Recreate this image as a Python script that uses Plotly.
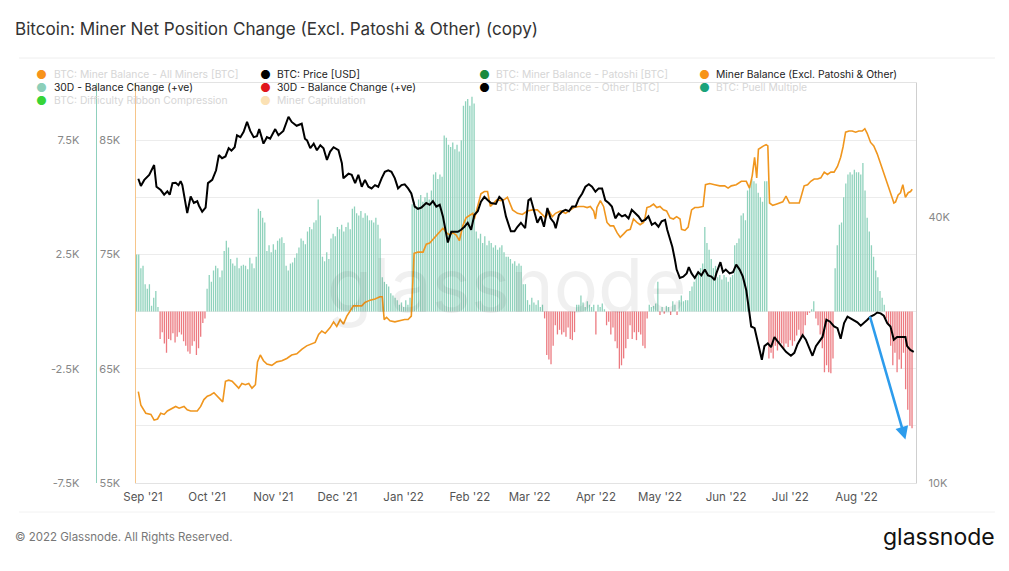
import numpy as np
import pandas as pd
import plotly.graph_objects as go

START = pd.Timestamp("2021-08-29")

# 30D balance change, daily, in thousands of BTC (from START)
balance_change_k = [
    2.5, 2.5, 1.9, 2.0, 1.2, 1.0, 1.2, 0.25, 0.6, 0.9,
    0.2, -1.2, -0.9, -1.4, -1.8, -1.2, -1.25, -0.95, -1.35, -1.1,
    -0.9, -1.0, -1.3, -1.5, -1.75, -1.85, -1.5, -1.3, -1.9, -1.6,
    -1.1, -0.5, -0.3, 1.0, 1.6, 1.3, 1.8, 2.0, 1.9, 1.5,
    1.8, 2.65, 3.1, 2.8, 2.3, 2.1, 2.0, 2.35, 1.9, 2.0,
    2.05, 2.0, 1.85, 2.35, 2.1, 1.9, 2.4, 4.5, 4.4, 4.1,
    3.9, 2.65, 2.9, 2.6, 2.95, 2.7, 3.1, 3.2, 3.25, 3.0,
    2.0, 1.8, 2.1, 2.15, 2.35, 2.55, 2.8, 3.2, 3.1, 2.95,
    3.5, 3.7, 3.6, 3.9, 4.0, 4.9, 4.2, 2.4, 2.2, 2.6,
    2.3, 3.2, 3.4, 3.3, 3.7, 3.6, 3.8, 3.5, 3.7, 3.9,
    3.6, 4.5, 4.6, 4.3, 4.2, 4.4, 4.1, 4.3, 4.2, 4.0,
    4.0, 3.9, 4.1, 3.8, 3.2, 1.5, 1.3, 1.2, 1.1, 0.8,
    0.7, 0.6, 0.5, 0.3, 0.4, 0.2, 0.5, 0.3, 0.6, 4.7,
    4.8, 4.6, 4.9, 5.1, 4.8, 5.0, 5.2, 4.9, 5.3, 6.0,
    6.1, 5.8, 6.0, 5.9, 7.7, 7.6, 7.3, 7.2, 7.4, 7.1,
    7.3, 7.0, 7.5, 9.0, 9.2, 9.3, 9.0, 9.4, 9.1, 3.5,
    3.2, 3.4, 3.0, 3.3, 2.9, 3.1, 3.0, 2.8, 2.9, 2.7,
    2.8, 2.9, 2.6, 2.4, 2.4, 2.3, 2.1, 2.2, 2.0, 2.1,
    2.0, 1.2, 1.2, 0.5, 0.3, 0.6, 0.4, 0.3, 0.5, 0.2,
    0.3, -0.3, -1.9, -2.1, -2.3, -1.5, -0.6, -1.0, -0.8, -1.0,
    -0.9, -1.1, -0.7, -1.2, -1.25, -0.9, 0.3, 0.3, 0.7, 0.4,
    0.2, 0.45, 0.3, 0.2, 0.3, -1.0, 0.3, 0.2, 0.35, 0.1,
    -0.6, -0.45, -1.0, -0.7, -1.3, -1.6, -2.5, -2.35, -2.05, -1.6,
    -1.2, -0.6, -1.2, -0.9, -1.25, -0.9, -1.0, -1.5, -1.6, -0.3,
    0.3, 0.2, 0.25, 0.35, 1.3, -0.15, 0.2, -0.1, 0.25, 0.2,
    -0.15, 0.45, 0.3, -0.15, 0.5, 0.7, 0.45, 0.5, 0.5, 0.9,
    1.1, 1.3, 1.5, 1.7, 1.9, 2.1, 3.7, 3.0, 2.7, 2.3,
    1.9, 2.0, 1.5, 1.6, 1.4, 1.6, 1.5, 1.3, 1.5, 1.6,
    2.9, 3.0, 3.2, 4.2, 4.3, 4.0, 5.3, 5.5, 5.8, 5.7,
    5.6, 5.2, 5.0, 4.8, 5.7, 5.7, -2.05, -1.8, -2.05, -1.5,
    -1.7, -1.35, -1.4, -1.6, -1.4, -1.55, -1.25, -1.5, -1.3, -1.05,
    -0.8, -1.2, -1.0, -0.6, -0.15, -0.05, 0.1, 0.45, -0.3, -0.6,
    -1.0, -1.6, -2.65, -2.35, -2.65, -2.7, -2.05, 1.9, 2.9, 3.8,
    3.9, 5.0, 5.6, 6.0, 6.1, 6.0, 6.2, 6.1, 6.1, 6.0,
    6.5, 5.3, 4.1, 3.5, 2.9, 2.4, 1.8, 1.5, 0.9, 0.6,
    0.3, -0.3, -0.6, -1.5, -2.35, -1.8, -2.65, -2.1, -2.5, -1.8,
    -3.4, -4.3, -5.0, -5.1,
]

# BTC price (USD, thousands), day offsets from START
price_days = [
    0.8, 2.0, 3.6, 5.9, 8.2, 9.3, 11.3, 12.9, 14.4, 15.5, 16.8, 18.3, 19.6, 20.6, 21.4,
    22.9, 23.7, 25.3, 26.8, 28.4, 29.2, 30.7, 32.3, 33.4, 35.4, 37.2, 38.5, 40.0, 41.6,
    43.1, 44.4, 45.9, 47.0, 48.6, 50.1, 51.7, 53.2, 54.8, 56.3, 57.4, 59.4, 61.0, 62.5,
    64.9, 66.4, 68.7, 71.1, 72.6, 74.9, 77.3, 78.8,
    79.8, 81.3, 82.9, 84.4, 86.0, 87.5, 89.1, 90.6, 92.2, 94.5, 96.1, 96.8, 99.2, 100.7,
    102.3, 103.8, 105.4, 106.9, 108.5, 110.0, 111.6, 113.1, 114.7, 116.2, 117.8, 119.3,
    120.9, 122.4, 124.0, 125.5, 127.1, 128.6, 130.2, 131.7, 133.3, 135.6, 137.2, 138.7,
    140.3, 141.9, 143.4, 145.0, 145.7, 147.3, 148.8, 150.4, 151.9, 153.5, 155.0, 156.6,
    158.1, 159.7, 161.2, 162.8, 164.3, 165.9, 168.2, 169.8, 171.3, 172.9, 175.2,
    176.9, 178.3, 179.9, 181.9, 183.4, 184.5, 186.1, 187.6, 189.2, 190.7, 192.3, 193.8,
    195.4, 196.2, 197.7, 199.3, 200.8, 202.4, 203.9, 205.5, 207.0, 208.6, 210.1, 211.7,
    213.2, 214.8, 216.3, 217.9, 219.4, 221.0, 222.5, 224.1, 225.6, 227.2, 228.7, 230.3,
    231.8, 233.4, 235.0, 236.5, 238.1, 239.6, 241.2, 242.7, 244.3, 245.8, 247.4, 248.4,
    249.7, 250.8, 252.0, 252.8, 254.3, 255.9, 257.5, 258.5, 259.8, 261.3, 262.9, 264.4,
    266.0, 267.5, 269.1, 270.6,
    271.4, 273.3, 274.5, 275.8, 277.6, 279.2, 280.7, 282.3, 283.8, 285.4, 286.9, 287.7,
    289.3, 290.3, 291.6, 292.7, 293.9, 295.5, 297.0, 298.6, 300.1, 301.7, 304.0, 306.3,
    307.9, 309.4, 311.8, 313.3, 314.9, 316.4, 318.0, 319.5, 321.1, 322.9, 324.5, 326.5,
    328.1, 329.6, 331.2, 332.8, 334.3, 335.8, 337.4, 339.0, 340.5, 342.1, 343.6, 345.2,
    346.7, 348.3, 349.8, 351.4, 352.9, 354.5, 356.0, 358.4, 359.9, 360.7, 362.2, 363.8,
]
price_k = [
    48.8, 47.0, 48.5, 49.8, 52.4, 46.8, 46.0, 44.9, 45.7, 44.9, 47.7, 47.8, 47.2, 48.2, 47.2,
    43.0, 40.8, 44.5, 43.0, 43.4, 42.4, 41.1, 42.0, 47.7, 48.5, 51.0, 55.2, 54.3, 54.8,
    57.2, 56.5, 57.5, 61.2, 60.6, 62.3, 65.6, 62.6, 60.6, 60.9, 63.2, 58.6, 60.6, 60.1,
    63.2, 61.2, 62.6, 67.4, 65.6, 64.3, 65.0, 60.1,
    59.6, 57.2, 58.6, 56.6, 58.1, 57.2, 53.8, 56.2, 57.5, 56.6, 52.9, 48.9, 50.1, 49.8,
    47.7, 49.8, 46.8, 48.5, 46.8, 46.4, 47.2, 46.8, 48.9, 50.6, 51.0, 50.6,
    48.9, 46.4, 47.2, 47.4, 46.4, 45.2, 42.2, 41.7, 42.0, 43.0, 42.6, 43.4,
    42.2, 42.6, 40.1, 36.1, 35.0, 37.0, 37.0, 37.0, 37.4, 38.0, 38.8, 37.4,
    40.4, 41.2, 43.3, 44.4, 43.7, 43.0, 42.8, 44.4, 43.7, 40.1, 37.1,
    37.1, 38.0, 38.8, 37.7, 43.6, 44.0, 41.5, 38.8, 40.1, 38.0, 41.9, 39.7,
    38.8, 37.7, 40.4, 41.2, 41.5, 41.2, 42.2, 42.2, 44.0, 45.2, 46.8, 47.4,
    46.8, 45.6, 46.4, 46.4, 43.6, 43.0, 42.2, 39.7, 40.7, 40.1, 40.4, 39.7,
    41.5, 40.7, 40.1, 39.1, 39.4, 40.1, 38.4, 38.8, 38.0, 39.1, 39.4, 37.4,
    35.4, 34.2, 32.0, 30.4, 29.1, 29.3, 29.8, 30.8, 29.8, 29.1, 30.0, 29.5,
    30.4, 29.5, 29.3, 28.8,
    29.8, 31.6, 30.0, 30.4, 29.8, 30.0, 31.2, 30.4, 29.3, 27.3, 24.2, 22.6,
    22.4, 21.4, 20.0, 19.0, 20.4, 20.7, 20.3, 21.4, 20.9, 20.4, 19.8, 19.4,
    19.7, 20.6, 21.6, 21.1, 20.1, 19.4, 20.4, 20.9, 21.4, 23.4, 23.2, 22.6,
    22.4, 21.2, 23.0, 23.8, 23.6, 23.4, 23.1, 22.7, 23.0, 23.4, 23.8, 24.0,
    24.3, 24.2, 23.9, 23.0, 22.6, 21.1, 21.4, 21.4, 21.4, 20.4, 20.0, 19.8,
]

# Miner balance excl. Patoshi & Other (thousands of BTC), day offsets from START
miner_days = [
    0.8, 2.0, 4.3, 6.7, 8.2, 9.8, 11.3, 12.9, 14.4, 16.8, 18.3, 19.9, 22.2, 23.7, 25.3,
    26.8, 28.4, 30.0, 31.5, 33.1, 34.6, 36.2, 37.7, 39.3, 40.3, 41.6, 43.1, 44.7, 46.2,
    47.8, 49.3, 50.9, 52.5, 54.0, 55.6, 56.6, 57.9, 59.4, 61.0, 63.3, 65.6, 68.0, 70.3,
    72.6, 75.0, 77.3, 79.6,
    81.3, 83.6, 85.2, 86.7, 88.3, 90.6, 92.2, 93.7, 95.3, 96.8, 98.4, 99.9, 101.5, 103.8,
    105.4, 106.9, 109.3, 111.6, 113.9, 115.0, 115.9, 117.0, 118.6, 120.9, 123.2, 125.5,
    127.1, 128.6, 129.9, 131.7, 134.1, 135.6, 137.2, 138.7, 140.3, 141.9, 143.4, 145.0,
    146.5, 148.0, 149.6, 151.1, 152.7, 154.2, 155.8, 157.4, 158.1, 159.7, 161.2, 162.8,
    164.3, 165.6, 167.1, 168.7, 170.5, 172.1, 173.6, 175.2,
    176.0, 178.3, 180.6, 182.9, 185.3, 187.6, 189.9, 191.5, 193.0, 194.6, 196.1, 198.5,
    200.8, 203.1, 204.7, 207.0, 209.3, 210.9, 212.4, 214.0, 214.8, 215.5, 217.1, 218.6,
    220.2, 221.7, 223.3, 224.9, 226.4, 228.0, 229.5, 231.1, 232.6, 234.2, 235.7, 237.3,
    238.1, 238.9, 240.4, 242.0, 243.5, 245.0, 246.6, 248.1, 249.7, 251.3, 252.8, 254.4,
    255.1, 256.7, 258.2, 259.8, 261.3, 262.9, 264.4, 265.2, 266.3, 268.3, 270.6,
    273.0, 275.3, 276.9, 278.4, 280.7, 283.1, 285.4, 286.9, 288.2, 289.3, 290.3, 291.1,
    292.4, 293.5, 294.7, 295.5, 296.3, 297.8, 299.4, 300.9, 302.5, 304.0, 305.6, 307.9,
    310.2, 311.0, 312.5, 314.1, 315.6, 317.2, 318.8, 320.3, 321.9, 323.4, 325.0, 326.5,
    328.1, 329.6, 330.7, 331.9, 333.5, 335.0, 336.6, 338.1, 339.7, 340.9, 342.0, 343.6,
    345.1, 346.7, 348.2, 349.8, 351.4, 352.9, 354.5, 355.3, 356.5, 357.6, 358.7, 359.9,
    361.2, 362.3, 363.1,
]
miner_balance_k = [
    63.0, 61.8, 61.1, 61.0, 60.5, 60.6, 61.1, 61.0, 61.3, 61.55, 61.7, 61.55, 61.7, 61.4, 61.3,
    61.3, 61.3, 61.7, 62.3, 62.6, 62.7, 62.9, 62.6, 62.3, 62.1, 63.9, 64.0, 63.9, 63.6,
    63.3, 63.7, 63.6, 63.7, 63.3, 63.6, 65.6, 66.2, 65.7, 65.4, 65.3, 65.6, 65.7, 65.9,
    66.2, 66.3, 66.7, 67.0,
    67.1, 67.3, 68.0, 68.3, 68.1, 68.6, 69.1, 68.7, 69.3, 68.9, 69.6, 70.0, 70.5, 70.5,
    70.5, 70.8, 71.0, 71.1, 71.3, 71.3, 69.3, 69.5, 69.2, 69.1, 69.2, 69.3,
    69.3, 69.6, 75.1, 75.2, 75.2, 75.9, 76.0, 76.3, 76.7, 77.0, 77.3, 76.9,
    76.7, 76.9, 76.7, 76.2, 77.5, 78.2, 78.4, 78.6, 78.1, 79.2, 80.3, 80.5,
    80.5, 79.2, 79.5, 79.8, 79.7, 79.8, 80.0, 79.2,
    78.9, 78.6, 78.5, 78.8, 78.9, 78.9, 78.5, 78.2, 78.8, 78.3, 78.6, 78.8,
    78.6, 78.9, 79.1, 79.2, 79.2, 79.1, 79.2, 78.8, 78.1, 79.1, 79.7, 79.2,
    77.8, 77.5, 77.5, 76.9, 76.5, 76.8, 77.1, 77.2, 78.1, 77.8, 77.6, 77.8,
    78.3, 79.1, 79.2, 79.4, 79.1, 79.2, 78.9, 78.8, 78.2, 78.1, 78.3, 78.1,
    77.2, 77.1, 77.4, 78.9, 79.1, 79.1, 79.2, 79.2, 81.1, 81.2, 81.1,
    81.0, 81.0, 80.8, 81.0, 81.1, 81.4, 81.4, 80.8, 81.9, 83.5, 81.7, 84.2,
    84.4, 84.5, 84.6, 84.5, 79.5, 79.3, 79.4, 79.5, 79.6, 80.1, 79.5, 79.5,
    79.5, 80.0, 81.0, 81.1, 81.4, 81.6, 81.6, 81.7, 82.2, 82.0, 82.2, 82.2,
    82.7, 83.5, 84.4, 85.7, 85.8, 85.8, 85.7, 85.8, 85.8, 86.0, 85.6, 84.8,
    84.5, 83.8, 83.0, 82.2, 81.3, 80.4, 79.5, 79.6, 80.2, 80.4, 81.1, 80.0,
    80.4, 80.5, 80.7,
]

# Axis tick labels
change_ticks = [-7500, -5000, -2500, 0, 2500, 5000, 7500, 10000]
change_labels = ["-7.5K", "", "-2.5K", "", "2.5K", "", "7.5K", ""]
balance_ticks = [55000, 65000, 75000, 85000]
balance_labels = ["55K", "65K", "75K", "85K"]
price_ticks = [10000, 40000]
price_labels = ["10K", "40K"]

legend_items = [
    # (label, dot colour, active)
    ("BTC: Miner Balance - All Miners [BTC]", "#f7931a", False),
    ("BTC: Price [USD]", "#000000", True),
    ("BTC: Miner Balance - Patoshi [BTC]", "#1b8a3f", False),
    ("Miner Balance (Excl. Patoshi & Other)", "#f7931a", True),
    ("30D - Balance Change (+ve)", "#8ccfb9", True),
    ("30D - Balance Change (+ve)", "#e0161b", True),
    ("BTC: Miner Balance - Other [BTC]", "#000000", False),
    ("BTC: Puell Multiple", "#1aa37a", False),
    ("BTC: Difficulty Ribbon Compression", "#37d437", False),
    ("Miner Capitulation", "#fbe1b4", False),
]

# ---------------------------------------------------------------------------
def to_dates(days):
    return START + pd.to_timedelta(np.asarray(days, dtype=float), unit="D")

bc_dates = START + pd.to_timedelta(np.arange(len(balance_change_k)), unit="D")
bc = np.array(balance_change_k) * 1000


def stems(mask):
    xs, ys = [], []
    for d, v, m in zip(bc_dates, bc, mask):
        if m:
            xs += [d, d, None]
            ys += [0, v, None]
    return xs, ys


pos_x, pos_y = stems(bc >= 0)
neg_x, neg_y = stems(bc < 0)

W, H = 1009, 571
ML, MR, MT, MB = 20, 20, 83, 88
PW = W - ML - MR
PH = H - MT - MB


def px(xp):
    return (xp - ML) / PW


def py(yp):
    return (H - MB - yp) / PH


FONT = "Inter, 'Open Sans', sans-serif"

fig = go.Figure()
fig.add_trace(go.Scatter(x=pos_x, y=pos_y, mode="lines", line=dict(color="#8fd2bc", width=1.3),
                         yaxis="y", showlegend=False, hoverinfo="skip", connectgaps=False))
fig.add_trace(go.Scatter(x=neg_x, y=neg_y, mode="lines", line=dict(color="#ec7a80", width=1.3),
                         yaxis="y", showlegend=False, hoverinfo="skip", connectgaps=False))
fig.add_trace(go.Scatter(x=to_dates(miner_days), y=np.array(miner_balance_k) * 1000,
                         mode="lines", line=dict(color="#f0961e", width=1.6),
                         yaxis="y2", showlegend=False))
fig.add_trace(go.Scatter(x=to_dates(price_days), y=np.array(price_k) * 1000,
                         mode="lines", line=dict(color="#000000", width=2),
                         yaxis="y3", showlegend=False))

x0 = px(132)
x1 = px(916)

fig.update_layout(
    width=W, height=H,
    margin=dict(l=ML, r=MR, t=MT, b=MB, pad=0),
    paper_bgcolor="white", plot_bgcolor="white",
    font=dict(family=FONT, color="#777"),
    xaxis=dict(domain=[x0, x1], type="date",
               range=[START - pd.Timedelta(hours=12), START + pd.Timedelta(days=365)],
               tick0="2021-09-01", dtick="M1", tickformat="%b '%y",
               showgrid=False, zeroline=False, ticks="outside", ticklen=3,
               tickcolor="rgba(0,0,0,0)",
               showline=True, linecolor="#e3e3e3", linewidth=1, mirror=True,
               tickfont=dict(size=11.5, color="#555", family=FONT)),
    yaxis=dict(anchor="free", position=px(92), side="left",
               range=[-7500, 10000], tickvals=change_ticks, ticktext=change_labels,
               showgrid=True, gridcolor="#ececec", gridwidth=1, zeroline=False,
               showline=True, linecolor="#8fd0bd", linewidth=1.2,
               ticks="outside", ticklen=14, tickcolor="rgba(0,0,0,0)",
               tickfont=dict(size=11, color="#888", family=FONT)),
    yaxis2=dict(overlaying="y", anchor="x", side="left",
                range=[55000, 90000], tickvals=balance_ticks, ticktext=balance_labels,
                showgrid=False, zeroline=False,
                showline=True, linecolor="#f6c58a", linewidth=1.2,
                ticks="outside", ticklen=12, tickcolor="rgba(0,0,0,0)",
                tickfont=dict(size=11, color="#888", family=FONT)),
    yaxis3=dict(overlaying="y", anchor="x", side="right", type="log",
                range=[4, 4.905], tickvals=price_ticks, ticktext=price_labels,
                showgrid=False, zeroline=False,
                showline=True, linecolor="#cfcfcf", linewidth=1,
                ticks="outside", ticklen=9, tickcolor="rgba(0,0,0,0)",
                tickfont=dict(size=11, color="#888", family=FONT)),
)

ann = []
# watermark
ann.append(dict(text="glassnode", x=px(505), y=py(285), xref="paper", yref="paper",
                showarrow=False, font=dict(size=74, color="rgba(0,0,0,0.06)", family=FONT)))
# title
ann.append(dict(text="Bitcoin: Miner Net Position Change (Excl. Patoshi & Other) (copy)",
                x=px(9), y=py(28), xref="paper", yref="paper", xanchor="left", yanchor="middle",
                showarrow=False, font=dict(size=17.1, color="#333", family=FONT)))
# footer
ann.append(dict(text="© 2022 Glassnode. All Rights Reserved.",
                x=px(9), y=py(537), xref="paper", yref="paper", xanchor="left", yanchor="middle",
                showarrow=False, font=dict(size=11.5, color="#777", family=FONT)))
ann.append(dict(text="glassnode", x=px(997), y=py(537), xref="paper", yref="paper",
                xanchor="right", yanchor="middle", showarrow=False,
                font=dict(size=23, color="#111", family=FONT)))

# legend (4 columns)
col_x = [38, 262, 482, 703]
row_y = [74, 87, 100]
for i, (label, colr, active) in enumerate(legend_items):
    r, c = divmod(i, 4)
    ann.append(dict(text="●", x=px(col_x[c]), y=py(row_y[r]), xref="paper", yref="paper",
                    xanchor="center", yanchor="middle", showarrow=False,
                    font=dict(size=12, color=colr, family=FONT)))
    ann.append(dict(text=label, x=px(col_x[c] + 10), y=py(row_y[r]), xref="paper", yref="paper",
                    xanchor="left", yanchor="middle", showarrow=False,
                    font=dict(size=10.3, color="#222" if active else "#d6d6d6", family=FONT)))

# blue arrow highlighting the late drawdown
ann.append(dict(x=START + pd.Timedelta(days=359.9), y=-5600, xref="x", yref="y",
                ax=START + pd.Timedelta(days=343.1), ay=-150, axref="x", ayref="y",
                showarrow=True, arrowhead=2, arrowsize=1.0, arrowwidth=2.6,
                arrowcolor="#2d9cec", text=""))
fig.update_layout(annotations=ann)

fig.update_layout(shapes=[
    dict(type="line", xref="paper", yref="paper", x0=px(15), x1=px(995), y0=py(58), y1=py(58),
         line=dict(color="#eeeeee", width=1)),
    dict(type="line", xref="paper", yref="paper", x0=px(15), x1=px(995), y0=py(512), y1=py(512),
         line=dict(color="#f2f2f2", width=1)),
])

fig.write_html("out.html", config={"displayModeBar": False},
               post_script="document.body.style.margin='0';")
